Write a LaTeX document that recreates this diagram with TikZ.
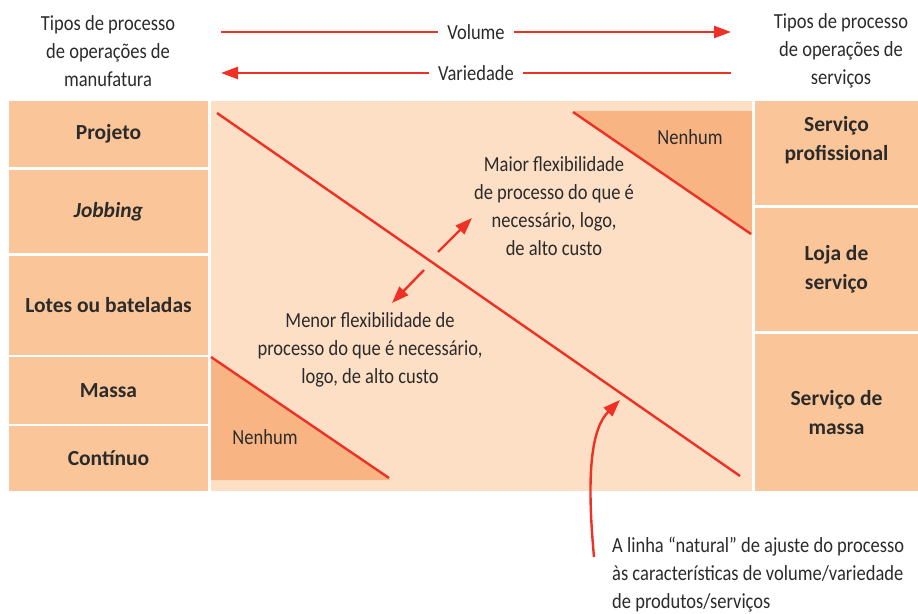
\documentclass[tikz,border=0pt]{standalone}
\usepackage{fontspec}
\setmainfont{Carlito}
\newfontfamily\condfont{Carlito}[FakeStretch=0.86]
\usetikzlibrary{arrows.meta}
\definecolor{boxfill}{HTML}{FAC598}
\definecolor{panelfill}{HTML}{FDDFC6}
\definecolor{trifill}{HTML}{F8B583}
\definecolor{fitred}{HTML}{EE3124}
\definecolor{inktext}{HTML}{2B2B2B}
\tikzset{
  proc/.style={fill=boxfill, inner sep=0pt, outer sep=0pt, text=inktext,
    font=\bfseries\fontsize{21.5}{29}\selectfont, align=center},
  note/.style={text=inktext, font=\condfont\fontsize{21.5}{28}\selectfont,
    align=center, inner sep=0pt},
  scalelabel/.style={note, inner xsep=9pt},
  redline/.style={fitred, line width=2.4pt},
  redarrow/.style={redline, -{Triangle[length=17pt,width=12pt]}},
}
\begin{document}
\begin{tikzpicture}[x=1pt, y=-1pt]
    \useasboundingbox (0,0) rectangle (918,613);
    % central panel with the two "Nenhum" corners
    \fill[panelfill] (211,101) rectangle (752,491);
    \fill[trifill] (573,111) -- (752,111) -- (752,235) -- cycle;
    \fill[trifill] (211,357) -- (211,480) -- (390,480) -- cycle;
    \draw[redline] (573,112) -- (751,234);
    \draw[redline] (211,357) -- (389,478);
    \coordinate (fitA) at (217,113);
    \coordinate (fitB) at (740,476);
    \draw[redline] (fitA) -- (fitB);

    % manufacturing process types
    \node[proc, minimum width=199pt, minimum height=66pt] (projeto) at (108.5,134) {Projeto};
    \node[proc, minimum width=199pt, minimum height=83pt] (jobbing) at (108.5,211.5) {\itshape Jobbing};
    \node[proc, minimum width=199pt, minimum height=99pt] (lotes) at (108.5,305.5) {Lotes ou bateladas};
    \node[proc, minimum width=199pt, minimum height=67pt] (massa) at (108.5,390.5) {Massa};
    \node[proc, minimum width=199pt, minimum height=65pt] (continuo) at (108.5,458.5) {Contínuo};

    % service process types
    \node[proc, minimum width=163pt, minimum height=104pt] (sprof) at (836.5,153) {};
    \node[proc, fill=none] (sproftxt) at (836.5,140) {Serviço\\profissional};
    \node[proc, minimum width=163pt, minimum height=123pt] (loja) at (836.5,269.5) {Loja de\\serviço};
    \node[proc, minimum width=163pt, minimum height=157pt] (smassa) at (836.5,412.5) {Serviço de\\massa};

    % headings
    \node[note] (manuf) at (108,51) {Tipos de processo\\de operações de\\manufatura};
    \node[note] (serv) at (841,51) {Tipos de processo\\de operações de\\serviços};

    % volume / variety
    \node[scalelabel] (vol) at (476,32) {Volume};
    \coordinate (volL) at (221,32);
    \coordinate (volR) at (731,32);
    \draw[redline] (volL) -- (vol);
    \draw[redarrow] (vol) -- (volR);
    \node[scalelabel] (var) at (476,73) {Variedade};
    \coordinate (varL) at (221,73);
    \coordinate (varR) at (731,73);
    \draw[redarrow] (var) -- (varL);
    \draw[redline] (varR) -- (var);

    % flexibility notes
    \node[note] (maior) at (554,206) {Maior flexibilidade\\de processo do que é\\necessário, logo,\\de alto custo};
    \node[note] (menor) at (370,350) {Menor flexibilidade de\\processo do que é necessário,\\logo, de alto custo};
    \coordinate (upA) at (438,252);
    \coordinate (upB) at (472,218);
    \coordinate (dnA) at (424,270);
    \coordinate (dnB) at (392,303);
    \draw[redarrow] (upA) -- (upB);
    \draw[redarrow] (dnA) -- (dnB);

    \node[note] (nenhumTop) at (690,137) {Nenhum};
    \node[note] (nenhumBot) at (265,437) {Nenhum};

    % natural line note
    \node[note, align=left, anchor=west] (natural) at (612,575) {A linha “natural” de ajuste do processo\\às características de volume/variedade\\de produtos/serviços};
    \coordinate (curveS) at (594,557);
    \coordinate (curveE) at (620,400);
    \draw[redarrow] (curveS) .. controls (586,470) and (592,428) .. (curveE);
\end{tikzpicture}
\end{document}
